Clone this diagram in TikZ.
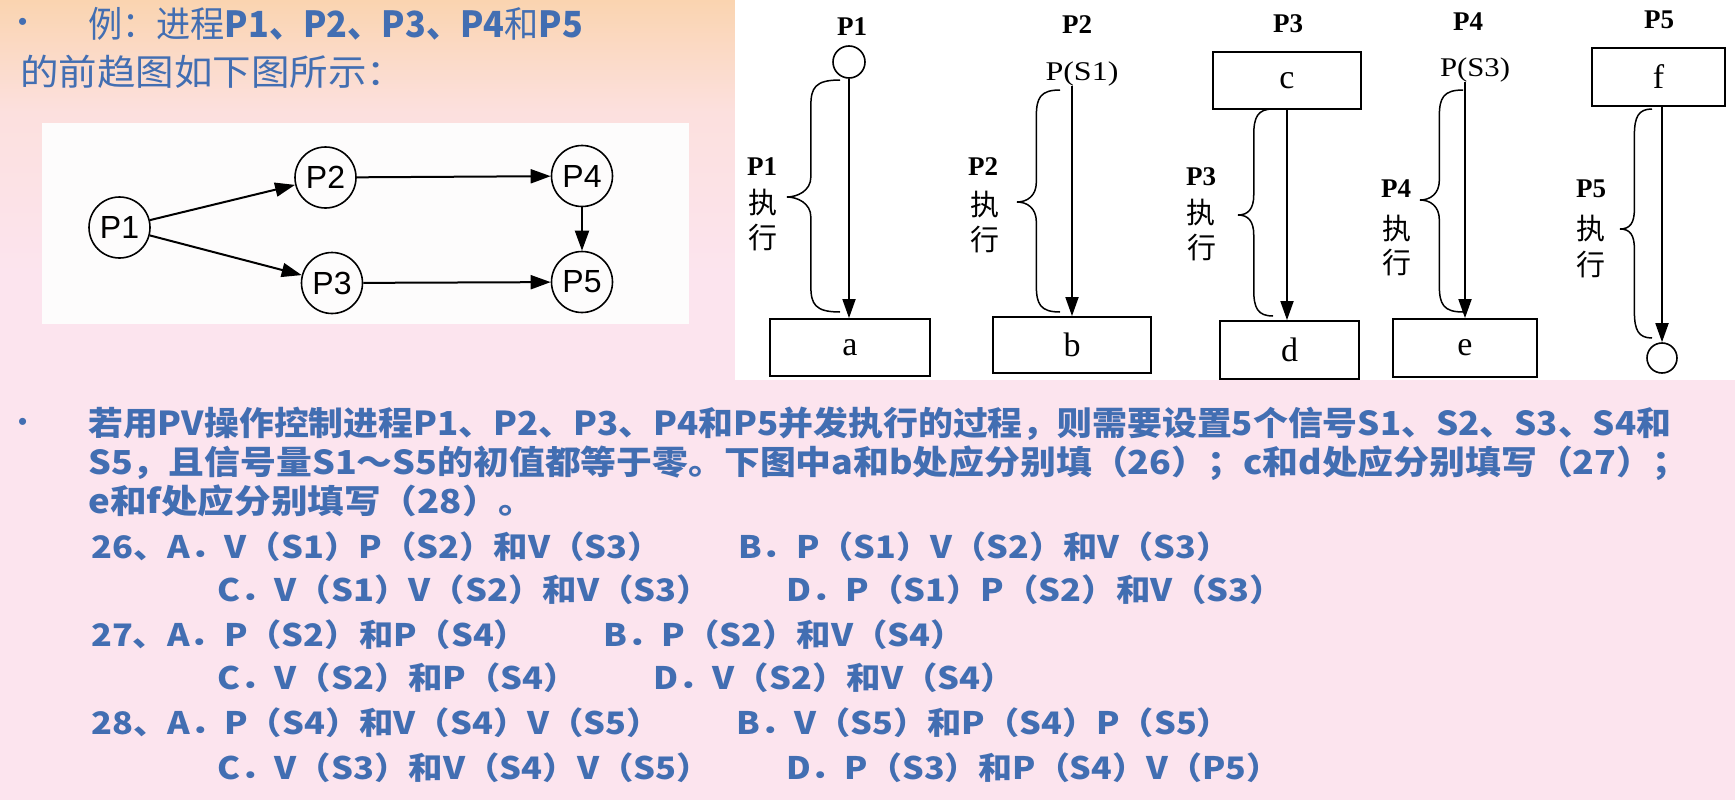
\documentclass[tikz,border=0pt]{standalone}
\usepackage{fontspec}
\usepackage{graphicx}
\setmainfont{Liberation Serif}
\newfontfamily\cjk{Noto Sans CJK SC}
\newfontfamily\arial{Liberation Sans}
\usetikzlibrary{arrows.meta}

\definecolor{txtblue}{RGB}{66,110,178}
\definecolor{bgtop}{RGB}{250,212,176}
\definecolor{bgmid}{RGB}{252,224,222}
\definecolor{bgbot}{RGB}{252,228,238}
\definecolor{graphbg}{RGB}{253,252,252}

% vertical background; the path covers the 25bp..75bp band of the shading
\pgfdeclareverticalshading{slidebg}{100bp}{color(0bp)=(bgbot); color(25bp)=(bgbot); color(58bp)=(bgbot); color(68bp)=(bgmid); color(75bp)=(bgtop); color(100bp)=(bgtop)}

% stretch a line of text to a given width, keeping its height
\newcommand\fitline[2]{\resizebox{#1pt}{\height}{#2}}

% curly brace: right-end x, top y, bottom y, tip x, tip y
\newcommand\execbrace[5]{%
  \pgfmathsetmacro\bx{#4+0.45*(#1-#4)}%
  \draw[bracepath] (#1,#2) .. controls (\bx+4,#2) and (\bx,#2+8) .. (\bx,#2+26)
    -- (\bx,#5-20) .. controls (\bx,#5-6) and (#4+10,#5) .. (#4,#5)
    .. controls (#4+10,#5) and (\bx,#5+6) .. (\bx,#5+20)
    -- (\bx,#3-26) .. controls (\bx,#3-8) and (\bx+4,#3) .. (#1,#3);%
}

\tikzset{
  txt/.style={anchor=west, inner sep=0pt, text=txtblue},
  gnode/.style={circle, draw=black, line width=1.6pt, minimum size=61pt, inner sep=0pt,
    font=\arial\fontsize{32}{32}\selectfont},
  garr/.style={line width=2pt, -{Triangle[length=20pt,width=14pt]}},
  hdr/.style={inner sep=0pt, font=\bfseries\fontsize{27}{27}\selectfont},
  ptxt/.style={inner sep=0pt, font=\fontsize{27}{27}\selectfont},
  sidep/.style={inner sep=0pt, font=\bfseries\fontsize{27}{27}\selectfont},
  sidec/.style={inner sep=0pt, font=\cjk\fontsize{29}{29}\selectfont},
  pbox/.style={draw=black, line width=1.8pt, inner sep=0pt, font=\fontsize{34}{34}\selectfont},
  pcirc/.style={circle, draw=black, line width=1.6pt, minimum size=32pt, inner sep=0pt},
  parr/.style={line width=1.8pt, -{Triangle[length=19pt,width=13pt]}},
  bracepath/.style={line width=1.5pt, black},
}

\begin{document}
\begin{tikzpicture}[x=1pt, y=-1pt]
\useasboundingbox (0,0) rectangle (1735,800);
\shade[shading=slidebg] (0,0) rectangle (1735,800);

% ---- heading ----
\node[txt, font=\arial\fontsize{26}{26}\selectfont] (b1) at (18,24) {•};
\node[txt] (t1) at (88,24) {\fitline{495}{\cjk\fontsize{36}{36}\selectfont 例：进程\textbf{P1、P2、P3、P4}和\textbf{P5}}};
\node[txt] (t2) at (20,72) {\fitline{385}{\cjk\fontsize{36}{36}\selectfont 的前趋图如下图所示：}};

% ---- precedence graph ----
\fill[graphbg] (42,123) rectangle (689,324);
\node[gnode] (n1) at (119.5,227.5) {P1};
\node[gnode] (n2) at (325.5,177.5) {P2};
\node[gnode] (n3) at (332,283) {P3};
\node[gnode] (n4) at (582,176) {P4};
\node[gnode] (n5) at (582,282) {P5};
\draw[garr] (n1) -- (n2);
\draw[garr] (n1) -- (n3);
\draw[garr] (n2) -- (n4);
\draw[garr] (n3) -- (n5);
\draw[garr] (n4) -- (n5);

% ---- process flow diagram ----
\fill[white] (735,0) rectangle (1735,380);

% P1
\node[hdr] (h1) at (852,27) {P1};
\node[pcirc] (c1) at (849,62) {};
\node[pbox, minimum width=160pt, minimum height=57pt] (a) at (850,347.5) {a};
\draw[parr] (c1.south) -- (c1.south |- a.north);
\execbrace{840}{80}{312}{787}{197}
\node[sidep] (l1p) at (762,167) {P1};
\node[sidec] (l1z) at (763,203) {执};
\node[sidec] (l1x) at (763,238) {行};

% P2
\node[hdr] (h2) at (1077,25) {P2};
\node[ptxt] (s1) at (1082,74) {\fitline{73}{P(S1)}};
\node[pbox, minimum width=158pt, minimum height=56pt] (b) at (1072,345) {b};
\draw[parr] (s1.south -| b.north) -- (b.north);
\execbrace{1060}{90}{312}{1017}{202}
\node[sidep] (l2p) at (983,167) {P2};
\node[sidec] (l2z) at (985,205) {执};
\node[sidec] (l2x) at (985,240) {行};

% P3
\node[hdr] (h3) at (1288,24) {P3};
\node[pbox, minimum width=148pt, minimum height=57pt] (c) at (1287,80.5) {c};
\node[pbox, minimum width=139pt, minimum height=58pt] (d) at (1289.5,350) {d};
\draw[parr] (c.south) -- (c.south |- d.north);
\execbrace{1273}{109}{316}{1238}{215}
\node[sidep] (l3p) at (1201,177) {P3};
\node[sidec] (l3z) at (1201,213) {执};
\node[sidec] (l3x) at (1202,248) {行};

% P4
\node[hdr] (h4) at (1468,22) {P4};
\node[ptxt] (s3) at (1475,70) {\fitline{70}{P(S3)}};
\node[pbox, minimum width=144pt, minimum height=58pt] (e) at (1465,348) {e};
\draw[parr] (s3.south -| e.north) -- (e.north);
\execbrace{1463}{90}{312}{1420}{200}
\node[sidep] (l4p) at (1396,189) {P4};
\node[sidec] (l4z) at (1397,229) {执};
\node[sidec] (l4x) at (1397,263) {行};

% P5
\node[hdr] (h5) at (1659,20) {P5};
\node[pbox, minimum width=133pt, minimum height=58pt] (f) at (1658.5,77) {f};
\node[pcirc, minimum size=30pt] (c5) at (1662,358) {};
\draw[parr] (f.south -| c5.north) -- (c5.north);
\execbrace{1652}{109}{338}{1620}{229}
\node[sidep] (l5p) at (1591,189) {P5};
\node[sidec] (l5z) at (1591,229) {执};
\node[sidec] (l5x) at (1591,265) {行};

% ---- question text ----
\node[txt, font=\arial\fontsize{26}{26}\selectfont] (b2) at (18,424) {•};
\node[txt] (q1) at (88,424) {\fitline{1583}{\cjk\bfseries\fontsize{33}{33}\selectfont 若用PV操作控制进程P1、P2、P3、P4和P5并发执行的过程，则需要设置5个信号S1、S2、S3、S4和}};
\node[txt] (q2) at (88,463) {\fitline{1600}{\cjk\bfseries\fontsize{33}{33}\selectfont S5，且信号量S1～S5的初值都等于零。下图中a和b处应分别填（26）；c和d处应分别填写（27）；}};
\node[txt] (q3) at (88,501) {\fitline{447}{\cjk\bfseries\fontsize{33}{33}\selectfont e和f处应分别填写（28）。}};

% ---- options ----
\node[txt] (o1a) at (91,547) {\fitline{571}{\cjk\bfseries\fontsize{31}{31}\selectfont 26、A．V（S1）P（S2）和V（S3）}};
\node[txt] (o1b) at (738,547) {\fitline{492}{\cjk\bfseries\fontsize{31}{31}\selectfont B．P（S1）V（S2）和V（S3）}};
\node[txt] (o1c) at (217,590) {\fitline{494}{\cjk\bfseries\fontsize{31}{31}\selectfont C．V（S1）V（S2）和V（S3）}};
\node[txt] (o1d) at (786,590) {\fitline{498}{\cjk\bfseries\fontsize{31}{31}\selectfont D．P（S1）P（S2）和V（S3）}};
\node[txt] (o2a) at (91,635) {\fitline{437}{\cjk\bfseries\fontsize{31}{31}\selectfont 27、A．P（S2）和P（S4）}};
\node[txt] (o2b) at (603,635) {\fitline{362}{\cjk\bfseries\fontsize{31}{31}\selectfont B．P（S2）和V（S4）}};
\node[txt] (o2c) at (217,678) {\fitline{361}{\cjk\bfseries\fontsize{31}{31}\selectfont C．V（S2）和P（S4）}};
\node[txt] (o2d) at (653,678) {\fitline{362}{\cjk\bfseries\fontsize{31}{31}\selectfont D．V（S2）和V（S4）}};
\node[txt] (o3a) at (91,723) {\fitline{570}{\cjk\bfseries\fontsize{31}{31}\selectfont 28、A．P（S4）和V（S4）V（S5）}};
\node[txt] (o3b) at (736,723) {\fitline{495}{\cjk\bfseries\fontsize{31}{31}\selectfont B．V（S5）和P（S4）P（S5）}};
\node[txt] (o3c) at (217,768) {\fitline{494}{\cjk\bfseries\fontsize{31}{31}\selectfont C．V（S3）和V（S4）V（S5）}};
\node[txt] (o3d) at (786,768) {\fitline{494}{\cjk\bfseries\fontsize{31}{31}\selectfont D．P（S3）和P（S4）V（P5）}};
\end{tikzpicture}
\end{document}
